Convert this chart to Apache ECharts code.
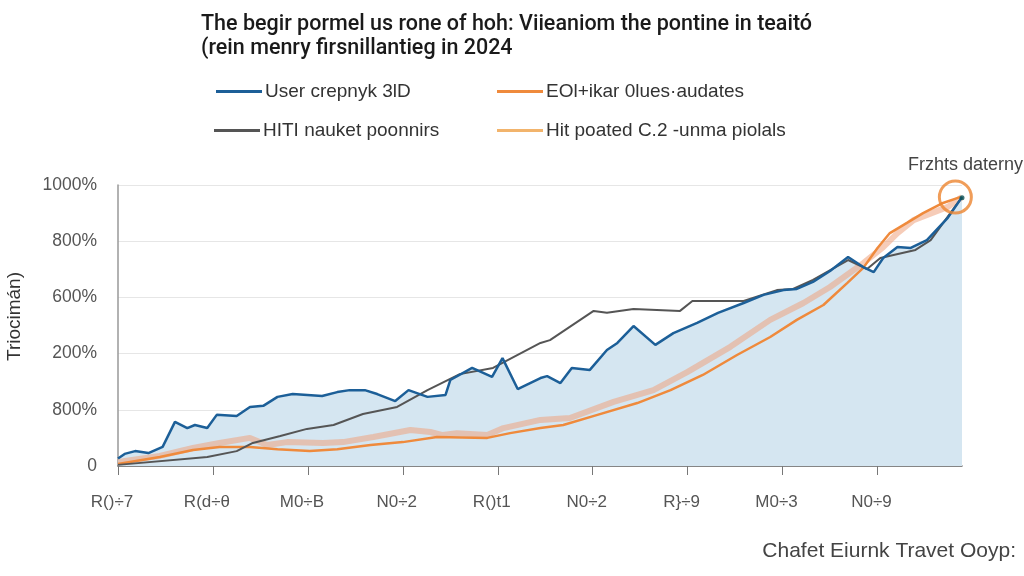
<!DOCTYPE html>
<html>
<head>
<meta charset="utf-8">
<script src="https://cdn.jsdelivr.net/npm/echarts@6/dist/echarts.min.js"></script>
<style>html,body{margin:0;padding:0;background:#fff;}#c{width:1024px;height:576px;}</style>
</head>
<body>
<div id="c"></div>
<script>
// ---- data ----
const titleText = 'The begir pormel us rone of hoh: Viieaniom the pontine in teaitó\n(rein menry firsnillantieg in 2024';
const seriesNames = ['User crepnyk 3lD', 'EOl+ikar 0lues·audates', 'HITI nauket poonnirs', 'Hit poated C.2 -unma piolals'];
const xTickLabels = ['R()÷7', 'R(d÷θ', 'M0÷B', 'N0÷2', 'R()t1', 'N0÷2', 'R}÷9', 'M0÷3', 'N0÷9'];
const yTickLabels = ['0', '800%', '200%', '600%', '800%', '1000%'];
const yAxisTitle = 'Triocimán)';
const xAxisTitle = 'Chafet Eiurnk Travet Ooyp:';
const noteText = 'Frzhts daterny';

const blueX = [0.00,0.07,0.18,0.32,0.47,0.60,0.73,0.81,0.94,1.04,1.25,1.39,1.53,1.68,1.84,2.15,2.31,2.44,2.60,2.73,2.92,3.06,3.26,3.45,3.50,3.73,3.94,4.05,4.21,4.45,4.52,4.66,4.78,4.97,5.15,5.26,5.43,5.66,5.85,6.10,6.32,6.59,6.80,7.01,7.15,7.32,7.50,7.69,7.85,7.96,8.06,8.21,8.35,8.52,8.74,8.89];
const blueY = [27,43,53,46,68,157,135,146,135,182,178,210,214,246,256,249,263,270,270,256,231,270,246,253,306,349,317,384,274,313,320,295,349,342,413,438,498,431,473,509,545,580,609,626,630,655,694,744,708,690,740,779,776,804,883,957];

const greyX = [0,0.94,1.25,1.42,1.71,1.99,2.27,2.58,2.94,3.26,3.60,3.95,4.45,4.55,5.01,5.15,5.43,5.92,6.05,6.59,6.94,7.11,7.32,7.69,7.89,8.03,8.40,8.56,8.89];
const greyY = [4,32,53,82,107,132,146,185,210,270,327,349,438,448,552,545,559,552,587,587,626,630,662,733,701,740,769,804,957];

const orangeX = [0,0.44,0.79,1.07,1.39,1.68,2.02,2.31,2.66,3.00,3.36,3.89,4.13,4.45,4.69,5.05,5.47,5.82,6.16,6.52,6.87,7.15,7.43,7.68,7.85,8.00,8.13,8.31,8.48,8.69,8.87];
const orangeY = [7,32,57,68,68,60,53,60,75,85,103,100,117,135,146,182,224,270,324,395,459,520,573,651,705,776,829,865,900,936,957];

const lightX = [0,0.44,0.79,1.07,1.39,1.57,1.78,2.16,2.37,2.69,3.08,3.29,3.42,3.57,3.89,4.06,4.45,4.76,5.22,5.64,6.00,6.45,6.87,7.22,7.50,7.85,8.06,8.21,8.38,8.74,8.89];
const lightY = [14,36,64,82,100,75,85,82,85,103,128,121,110,117,110,135,164,171,228,270,335,424,520,580,637,722,779,829,875,922,957];

const notePoint = [8.82, 957];
const noteDot = [8.89, 955];

// ---- chart ----
const zip = (xs, ys) => xs.map((x, i) => [x, ys[i]]);
const chart = echarts.init(document.getElementById('c'));
const baseFont = 'Liberation Sans, Arial, sans-serif';
const legendCommon = {
  icon: 'rect', itemWidth: 46, itemHeight: 3, padding: 0, itemGap: 0,
  textStyle: { fontSize: 19, color: '#333', fontFamily: baseFont, padding: [0, 0, 0, -2] },
  selectedMode: false
};
chart.setOption({
  animation: false,
  backgroundColor: '#fff',
  title: {
    text: titleText, left: 196, top: 8,
    textStyle: { fontSize: 21.5, fontWeight: 500, color: '#1a1a1a', lineHeight: 24, fontFamily: 'Roboto, sans-serif' }
  },
  legend: [
    Object.assign({ data: [seriesNames[0]], left: 216, top: 82 }, legendCommon),
    Object.assign({ data: [seriesNames[1]], left: 497, top: 82 }, legendCommon),
    Object.assign({ data: [seriesNames[2]], left: 214, top: 121 }, legendCommon),
    Object.assign({ data: [seriesNames[3]], left: 497, top: 121 }, legendCommon)
  ],
  grid: { left: 118, right: 62, top: 185, bottom: 110, containLabel: false, outerBoundsMode: 'none' },
  xAxis: {
    type: 'value', min: 0, max: 8.89, interval: 1,
    axisLine: { show: true, lineStyle: { color: '#666', width: 1.5 } },
    axisTick: { show: true, length: 9, lineStyle: { color: '#777' } },
    splitLine: { show: false },
    axisLabel: {
      margin: 28, fontSize: 17, color: '#555', fontFamily: baseFont, showMaxLabel: false,
      padding: [0, 12, 0, 0],
      formatter: v => (Number.isInteger(v) && xTickLabels[v] !== undefined) ? xTickLabels[v] : ''
    }
  },
  yAxis: {
    type: 'value', min: 0, max: 1000, interval: 200,
    name: yAxisTitle, nameLocation: 'middle', nameGap: 94, nameRotate: 90,
    nameTextStyle: { fontSize: 19, color: '#333', fontFamily: baseFont, padding: [0, 0, 0, 18] },
    axisLine: { show: true, lineStyle: { color: '#999', width: 1.5 } },
    axisTick: { show: false },
    splitLine: { lineStyle: { color: '#e6e6e6' } },
    axisLabel: {
      margin: 21, fontSize: 17.5, color: '#555', fontFamily: baseFont,
      formatter: v => yTickLabels[Math.round(v / 200)]
    }
  },
  graphic: [
    { type: 'text', right: 1, top: 156, style: { text: noteText, fill: '#444', font: '18px Liberation Sans' } },
    { type: 'text', right: 8, top: 541, style: { text: xAxisTitle, fill: '#444', font: '21px Liberation Sans' } }
  ],
  series: [
    {
      name: 'area', type: 'line', data: zip(blueX, blueY), symbol: 'none',
      lineStyle: { width: 0 }, areaStyle: { color: '#d5e6f1', opacity: 1 }, z: 1, silent: true
    },
    {
      name: seriesNames[3], type: 'line', data: zip(lightX, lightY), symbol: 'none',
      itemStyle: { color: '#f2b46c' },
      lineStyle: { color: '#eea27e', width: 6, opacity: 0.55 }, z: 2
    },
    {
      name: seriesNames[1], type: 'line', data: zip(orangeX, orangeY), symbol: 'none',
      itemStyle: { color: '#ef8a3c' }, lineStyle: { color: '#ef8a3c', width: 2.5 }, z: 3
    },
    {
      name: seriesNames[2], type: 'line', data: zip(greyX, greyY), symbol: 'none',
      itemStyle: { color: '#555' }, lineStyle: { color: '#555', width: 2 }, z: 4
    },
    {
      name: seriesNames[0], type: 'line', data: zip(blueX, blueY), symbol: 'none',
      itemStyle: { color: '#1c5f98' }, lineStyle: { color: '#1c5f98', width: 2.5 }, z: 5
    },
    {
      name: 'note', type: 'scatter', data: [notePoint], symbol: 'circle', symbolSize: 32,
      itemStyle: { color: 'rgba(255,255,255,0)', borderColor: '#ec8530', borderWidth: 3 }, z: 6, silent: true
    },
    {
      name: 'dot', type: 'scatter', data: [noteDot], symbol: 'circle', symbolSize: 5,
      itemStyle: { color: '#0c4f52' }, z: 7, silent: true
    }
  ]
});
</script>
</body>
</html>
